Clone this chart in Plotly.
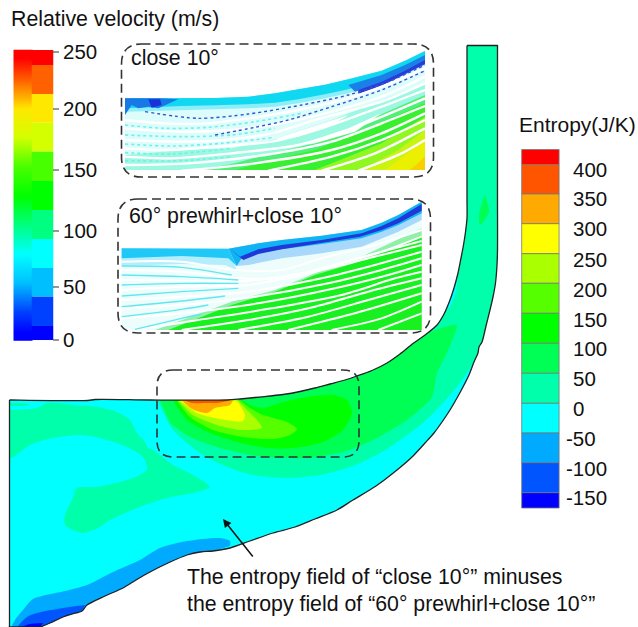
import plotly.graph_objects as go

# ---------- colour-bar data ----------
velocity_ticks = [250, 200, 150, 100, 50, 0]
velocity_tick_y = [52, 109, 170, 231, 287, 340]
velocity_edges = [50, 65, 94, 122.7, 151.7, 181, 210, 239, 268, 296.7, 326, 340]
velocity_colors = ["#ff0000", "#ff6000", "#ffe800", "#d4ff00", "#48ff00", "#00ff00",
                   "#00ff80", "#00ffff", "#00bfff", "#0040ff", "#0000ff"]
entropy_labels = ["400", "350", "300", "250", "200", "150", "100", "50", "0", "-50", "-100", "-150"]
entropy_label_y = [170, 199.5, 229.5, 260, 290, 320, 349, 379, 409, 439, 469, 498]
entropy_edges = [149.5, 164.5, 194, 223.7, 253.7, 283.3, 313.3, 343.3, 373.3, 403.3, 433, 462.7, 492.7, 508]
entropy_colors = ["#ff0000", "#ff5500", "#ffaa00", "#ffff00", "#aaff00", "#55ff00", "#00ff00",
                  "#00ff55", "#00ffaa", "#00ffff", "#00aaff", "#0055ff", "#0000ff"]

# ---------- entropy field outlines ----------
shroud = [(9.5, 400), (10.5, 400), (88, 400.5), (95, 399.5), (150, 400), (227, 400), (240, 399), (255, 397.5), (270, 396), (283, 394.5),
          (300, 391.5), (315, 388), (330, 384), (345, 380), (357, 376), (372, 370.5), (387, 363), (400, 354), (413, 343.5),
          (425, 335), (437, 325), (444, 314), (450, 300), (454, 288), (458, 273), (461, 258), (463.5, 245), (465.5, 232),
          (467, 218), (467, 200), (467, 120), (467, 47), (467, 45.5)]
outlet_right = [(467, 45.5), (468, 45.5), (496.5, 45.5), (497.5, 45.5), (497.5, 47), (497.5, 120), (497.5, 200), (497.5, 250), (497, 265), (495.5, 283),
                (493, 297), (490, 310), (486, 326), (482, 342), (479, 347), (478, 353), (474, 362), (469, 375), (463, 387), (457, 398),
                (450, 410), (442, 422), (434, 433), (425, 443), (412, 457), (397, 470), (376, 486), (353, 500), (337, 510),
                (315, 519), (295, 527), (273, 533), (250, 541), (230, 548), (213, 551), (200, 552), (187, 555), (168, 563),
                (150, 572), (136, 580), (123, 588), (105, 596), (87, 605), (82, 611), (72, 614), (63, 617), (50, 623), (40, 627),
                (39, 627), (10.5, 627), (9.5, 627), (9.5, 626)]
domain = shroud + outlet_right[1:]

channel_50 = [p for p in shroud if p[0] >= 160] + outlet_right[1:17] + [(470, 368), (460, 383), (443, 403), (423, 423),
              (390, 447), (380, 453), (353, 466), (320, 475), (287, 478), (253, 475), (227, 467), (200, 453), (173, 430), (162, 410), (158, 400.5)]
left_50 = [(10, 410), (37, 408), (47, 403), (73, 405), (97, 407), (117, 412), (130, 420), (137, 433), (145, 442), (148, 448),
           (153, 450), (173, 465), (193, 475), (210, 487), (197, 492), (167, 498), (140, 507), (110, 520), (100, 527), (82, 533),
           (65, 525), (65, 515), (72, 500), (77, 488), (97, 487), (127, 480), (140, 475), (147, 469), (143, 457), (127, 447),
           (100, 438), (80, 435), (53, 438), (30, 445), (12, 458), (10, 458)]
streak_50 = [(10, 403), (30, 404), (28, 405.5), (10, 406)]
channel_100 = [(160, 400.5), (227, 400.5), (250, 398.5), (283, 395), (330, 384.5), (357, 376.5), (387, 363.5), (413, 344), (433, 331),
               (445, 327), (457, 325), (455, 333), (447, 353), (437, 373), (432, 397), (407, 420), (373, 440), (343, 452),
               (310, 458), (280, 458), (250, 455), (217, 447), (190, 437), (170, 423)]
island_100 = [(485, 195), (489, 212), (480, 225), (479, 215), (483, 200)]
core_150 = [(173, 400.5), (187, 420), (210, 433), (237, 442), (267, 448), (293, 448), (323, 442), (343, 430), (352, 413), (347, 400),
            (333, 395), (307, 397), (283, 402), (263, 408), (250, 405), (243, 400.5)]
core_200 = [(177, 400.5), (190, 417), (213, 430), (243, 437), (273, 439), (290, 435), (297, 429), (287, 422), (263, 415), (250, 408), (240, 400.5)]
core_250 = [(178, 400.5), (193, 415), (217, 425), (240, 430), (262, 428), (257, 420), (247, 410), (238, 400.5)]
core_300 = [(180, 400.5), (197, 413), (220, 419), (243, 421), (245, 415), (237, 400.5)]
core_350 = [(182, 400.5), (192, 409), (207, 413), (215, 408), (230, 405), (233, 400.5)]
core_400 = [(185, 400.5), (192, 403), (208, 403), (217, 403), (230, 400.5)]
sliver_0 = [(458, 275), (456, 292), (450, 307), (446, 311), (451, 298)]
hub_m50 = [(230, 546), (230, 541), (220, 538), (187, 541), (160, 548), (140, 560), (113, 572), (87, 585), (65, 591), (33, 599), (23, 610),
           (15, 620), (12, 627), (40, 627), (50, 623), (63, 617), (82, 611), (87, 605), (123, 588), (150, 572), (187, 555), (213, 551)]
hub_m100 = [(85, 605), (63, 608), (37, 613), (27, 617), (18, 627), (40, 627), (50, 623), (63, 617), (82, 611)]
hub_m150 = [(43, 623), (30, 624), (22, 627), (40, 627)]

field_layers = [(left_50, "#00ffaa"), (streak_50, "#00ffaa"), (channel_50, "#00ffaa"), (channel_100, "#00ff55"), (island_100, "#00ff55"),
                (core_150, "#00ff00"), (core_200, "#55ff00"), (core_250, "#aaff00"), (core_300, "#ffff00"), (core_350, "#ffaa00"),
                (core_400, "#ff5500"), (sliver_0, "#00ffff"), (hub_m50, "#00aaff"), (hub_m100, "#0055ff"), (hub_m150, "#0000ff")]

# ---------- inset 1: close 10 deg (crop coordinates) ----------
a_top = [(30, 175), (200, 175), (300, 174), (400, 170), (480, 160), (550, 148), (630, 134), (700, 118), (760, 103), (800, 92), (870, 62), (930, 33)]
a_band_low = [(930, 75), (870, 105), (800, 130), (700, 160), (630, 175), (550, 190), (480, 200), (400, 205), (300, 208), (200, 210), (30, 215)]
a_layers = [
    (a_top + [(930, 390), (30, 390)], "#dcfdfb"),
    ([(30, 390), (30, 345), (200, 330), (350, 325), (470, 300), (650, 240), (930, 130), (930, 390)], "#9cf8e0"),
    ([(250, 390), (350, 372), (450, 345), (600, 310), (760, 240), (930, 165), (930, 390)], "#50f078"),
    ([(360, 390), (450, 365), (600, 330), (760, 265), (930, 190), (930, 390)], "#38f030"),
    ([(600, 390), (800, 310), (930, 230), (930, 390)], "#90f820"),
    ([(740, 390), (850, 330), (930, 270), (930, 390)], "#c8f410"),
    ([(810, 390), (930, 300), (930, 390)], "#eaf000"),
    ([(885, 390), (930, 350), (930, 390)], "#f8d000"),
    (a_top + a_band_low, "#8ceef8"),
    (a_top + [(930, 60), (870, 92), (800, 118), (700, 148), (630, 163), (550, 178), (480, 188), (400, 193), (300, 196), (200, 198), (30, 205)], "#10d8f0"),
    ([(30, 175), (50, 175), (100, 175), (130, 175), (190, 178), (130, 205), (100, 200), (70, 205), (50, 195), (30, 225)], "#1878e8"),
    ([(100, 178), (135, 178), (140, 195), (110, 203)], "#1a30d8"),
    ([(700, 135), (800, 105), (870, 75), (930, 45), (930, 72), (870, 100), (800, 128), (720, 155)], "#1a80e8"),
    ([(730, 150), (800, 125), (870, 92), (930, 60), (930, 72), (870, 102), (800, 138), (730, 162)], "#2a3cd8"),
    ([(470, 300), (560, 270), (700, 225), (660, 250), (550, 290)], "#ffffff"),
    ([(550, 315), (700, 265), (800, 220), (720, 275), (600, 310)], "#ffffff"),
]
a_streaks = [
    [(30, 240), (150, 250), (280, 250), (400, 235), (550, 210), (700, 175), (800, 140), (930, 85)],
    [(30, 265), (200, 275), (350, 270), (500, 250), (650, 215), (800, 170), (930, 110)],
    [(30, 300), (200, 305), (330, 300), (470, 280), (600, 240), (800, 185), (930, 130)],
    [(30, 325), (170, 330), (300, 320), (470, 305), (620, 265), (800, 200), (930, 150)],
    [(30, 350), (170, 355), (350, 340), (550, 315), (700, 270), (930, 175)],
    [(30, 375), (220, 370), (450, 345), (650, 305), (800, 250), (930, 198)],
    [(200, 392), (420, 370), (650, 330), (800, 280), (930, 220)],
    [(460, 392), (650, 350), (800, 300), (930, 240)],
    [(620, 392), (780, 340), (930, 265)],
    [(730, 392), (860, 340), (930, 300)],
]
a_cyan = [
    [(30, 255), (150, 265), (280, 262), (420, 245), (560, 220)],
    [(30, 285), (200, 290), (350, 285), (480, 265)],
    [(30, 312), (170, 318), (320, 310), (470, 293)],
    [(30, 338), (170, 342), (350, 325)],
    [(30, 362), (200, 362), (350, 350)],
]
a_dots = [
    [(90, 215), (250, 235), (400, 222), (560, 195), (700, 165), (820, 125), (930, 75)],
    [(300, 285), (420, 262), (520, 240), (650, 200), (800, 150), (930, 92)],
]

# ---------- inset 2: 60 deg prewhirl + close 10 deg (crop coordinates) ----------
b_top = [(20, 175), (340, 176), (360, 172), (430, 160), (500, 150), (620, 137), (740, 120), (800, 98), (850, 75), (920, 35)]
b_layers = [
    (b_top + [(920, 420), (20, 420)], "#ecfdfc"),
    ([(120, 420), (350, 335), (480, 300), (600, 250), (750, 195), (920, 115), (920, 420)], "#90f0a8"),
    ([(160, 420), (350, 345), (480, 305), (600, 255), (750, 210), (920, 140), (920, 420)], "#18f020"),
    ([(20, 175), (340, 176), (365, 240), (330, 225), (200, 222), (20, 228)], "#b4eefc"),
    (b_top[:2] + [(365, 228), (340, 205), (200, 198), (20, 205)], "#20c8f8"),
    ([(340, 176), (360, 172), (430, 160), (500, 150), (620, 137), (740, 120), (800, 98), (850, 75), (920, 35), (920, 90), (850, 125), (740, 170), (620, 190), (500, 205), (400, 225), (365, 228)], "#a8d8fa"),
    ([(340, 176), (360, 172), (430, 160), (500, 150), (620, 137), (740, 120), (800, 98), (850, 75), (920, 35), (920, 70), (850, 105), (800, 125), (740, 145), (620, 162), (500, 178), (430, 190), (380, 205), (365, 228)], "#10b4f4"),
    ([(345, 178), (375, 200), (430, 178), (500, 165), (620, 150), (740, 130), (800, 108), (850, 85), (920, 42), (920, 62), (850, 100), (800, 120), (735, 140), (620, 158), (500, 178), (430, 192), (385, 210)], "#2038d8"),
]
b_streaks = [
    [(20, 215), (200, 215), (360, 240), (500, 240), (620, 205), (780, 165), (920, 120)],
    [(20, 240), (200, 245), (380, 265), (520, 265), (680, 220), (800, 185), (920, 140)],
    [(20, 270), (200, 272), (400, 272), (560, 250), (700, 212), (920, 153)],
    [(20, 300), (200, 290), (400, 285), (600, 245), (760, 205), (920, 165)],
    [(20, 330), (200, 320), (400, 305), (620, 265), (780, 225), (920, 185)],
    [(20, 355), (200, 345), (420, 320), (640, 280), (800, 240), (920, 205)],
    [(20, 385), (200, 370), (430, 340), (660, 295), (820, 255), (920, 225)],
    [(60, 420), (250, 390), (470, 355), (680, 315), (840, 265), (920, 245)],
    [(200, 420), (400, 390), (600, 350), (760, 305), (920, 265)],
    [(370, 420), (580, 380), (760, 330), (920, 285)],
    [(520, 420), (720, 370), (920, 310)],
    [(650, 420), (800, 385), (920, 335)],
    [(790, 420), (920, 370)],
]
b_cyan = [
    [(20, 228), (200, 232), (350, 255)],
    [(20, 255), (200, 260), (370, 270)],
    [(20, 285), (200, 280), (370, 280)],
    [(20, 318), (200, 305), (370, 295)],
    [(20, 350), (200, 333), (330, 318)],
    [(20, 380), (200, 358), (280, 345)],
    [(60, 418), (200, 385), (260, 372)],
]


def crop_a(pts):
    return [115 + x / 3 for x, y in pts], [40 + y / 3 for x, y in pts]


def crop_b(pts):
    return [115 + x / 3 for x, y in pts], [190 + y / 3 for x, y in pts]


fig = go.Figure()


def polygon(xs, ys, color, shape="linear"):
    fig.add_trace(go.Scatter(x=xs, y=ys, mode="lines", fill="toself", fillcolor=color,
                             line=dict(width=0, color=color, shape=shape, smoothing=0.7), hoverinfo="skip"))


def polyline(xs, ys, color, width, dash="solid", shape="spline"):
    fig.add_trace(go.Scatter(x=xs, y=ys, mode="lines", line=dict(color=color, width=width, dash=dash, shape=shape, smoothing=0.8),
                             hoverinfo="skip"))


# velocity colour bar: blurred left half + stepped right half
n = len(velocity_colors) - 1
band_centers = [(velocity_edges[i] + velocity_edges[i + 1]) / 2 for i in range(n + 1)]
fig.add_trace(go.Heatmap(x=[13.5, 23, 32], y=[50, 50.5] + band_centers + [339.5, 340],
                         z=[[0, 0], [0, 0]] + [[i, i] for i in range(n + 1)] + [[n, n], [n, n]], zmin=0, zmax=n, zsmooth="best",
                         colorscale=[[i / n, c] for i, c in enumerate(velocity_colors)], showscale=False, hoverinfo="skip"))
fig.add_trace(go.Bar(x=[42.5] * len(velocity_colors), width=21.5,
                     base=velocity_edges[:-1], y=[velocity_edges[i + 1] - velocity_edges[i] for i in range(len(velocity_colors))],
                     marker=dict(color=velocity_colors, line=dict(width=0)), hoverinfo="skip"))
for y in velocity_tick_y:
    polyline([53, 59], [min(max(y, 50), 340)] * 2, "#333333", 1, shape="linear")

# entropy colour bar
fig.add_trace(go.Bar(x=[540.4] * len(entropy_colors), width=37.4,
                     base=entropy_edges[:-1], y=[entropy_edges[i + 1] - entropy_edges[i] for i in range(len(entropy_colors))],
                     marker=dict(color=entropy_colors, line=dict(width=0.8, color="#777777")), hoverinfo="skip"))

# main entropy field
polygon([p[0] for p in domain], [p[1] for p in domain], "#00ffff", "spline")
for pts, col in field_layers:
    polygon([p[0] for p in pts], [p[1] for p in pts], col, "spline")
polyline([p[0] for p in shroud], [p[1] for p in shroud], "#222222", 1.3)
polyline([p[0] for p in outlet_right], [p[1] for p in outlet_right], "#222222", 1.3)
polyline([9.5, 9.5], [400, 627], "#222222", 1.3, shape="linear")

# insets
for pts, col in a_layers:
    polygon(*crop_a(pts), col)
for s in a_streaks:
    polyline(*crop_a(s), "#ffffff", 2.4)
for s in a_cyan:
    polyline(*crop_a(s), "#70f0e8", 1.6, "dot")
for s in a_dots:
    polyline(*crop_a(s), "#3850d8", 1.4, "dot")
for pts, col in b_layers:
    polygon(*crop_b(pts), col)
for s in b_streaks:
    polyline(*crop_b(s), "#ffffff", 2)
for s in b_cyan:
    polyline(*crop_b(s), "#60e8f0", 1.4)


def rounded(x0, y0, x1, y1, r):
    return (f"M{x0 + r},{y0} L{x1 - r},{y0} Q{x1},{y0} {x1},{y0 + r} L{x1},{y1 - r} Q{x1},{y1} {x1 - r},{y1} "
            f"L{x0 + r},{y1} Q{x0},{y1} {x0},{y1 - r} L{x0},{y0 + r} Q{x0},{y0} {x0 + r},{y0} Z")


shapes = [dict(type="path", path=rounded(*box), line=dict(color="#333333", width=1.6, dash="9px,5px"), layer="above")
          for box in [(121.5, 44, 433.5, 177, 20), (118, 199, 430.5, 333, 20), (157, 370, 359, 457, 16)]]

FONT = "Liberation Sans, Arial, sans-serif"


def label(x, y, text, size=20.5):
    return dict(x=x, y=y - 0.8, text=text, showarrow=False, xanchor="left", yanchor="middle", align="left",
                font=dict(family=FONT, size=size, color="#111111"), xref="x", yref="y")


ann = [label(8.5, 20, "Relative velocity (m/s)", 21.3), label(517, 125, "Entropy(J/K)", 21),
       label(129, 59, "close 10°", 21.3), label(127, 217, "60° prewhirl+close 10°", 21.3),
       label(185, 578, "The entropy field of “close 10°” minuses", 21.3),
       label(185, 605, "the entropy field of “60° prewhirl+close 10°”", 21.3)]
for v, y in zip(velocity_ticks, velocity_tick_y):
    ann.append(label(61, y, str(v)))
for t, y in zip(entropy_labels, entropy_label_y):
    ann.append(label(564 if t.startswith("-") else 571, y, t))
ann.append(dict(x=223, y=519, ax=254, ay=558, xref="x", yref="y", axref="x", ayref="y", text="", showarrow=True,
                arrowhead=2, arrowsize=1.1, arrowwidth=1.5, arrowcolor="#111111"))

fig.update_layout(width=638, height=627, margin=dict(l=0, r=0, t=0, b=0), showlegend=False, barmode="overlay",
                  paper_bgcolor="white", plot_bgcolor="white", shapes=shapes, annotations=ann,
                  xaxis=dict(range=[0, 638], visible=False, fixedrange=True),
                  yaxis=dict(range=[627, 0], visible=False, fixedrange=True))
fig.write_html("out.html", config=dict(displayModeBar=False),
               post_script="document.body.style.margin='0';document.documentElement.style.overflow='hidden';")
